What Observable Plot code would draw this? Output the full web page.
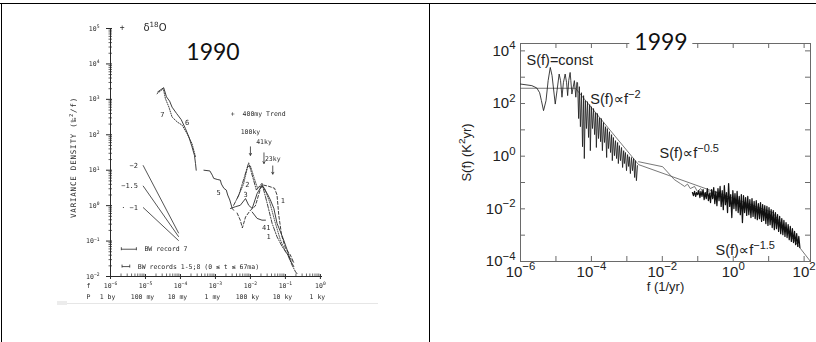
<!DOCTYPE html>
<html>
<head>
<meta charset="utf-8">
<script src="https://cdn.jsdelivr.net/npm/d3@7"></script>
<script src="https://cdn.jsdelivr.net/npm/@observablehq/plot@0.6"></script>
<style>
  html, body { margin: 0; padding: 0; background: #fff; }
  #page { position: relative; width: 816px; height: 342px; overflow: hidden; background: #fff; }
  #left, #right { position: absolute; top: 0; }
  #left { left: 0; }
  #right { left: 430px; }
  #left svg { filter: blur(0.3px); }
  .rule { position: absolute; background: #000; }
  .year { position: absolute; font-family: Lato, "Open Sans", sans-serif; font-size: 23px; color: #111;
          line-height: 1; transform: translate(-50%, -50%); white-space: nowrap; }
</style>
</head>
<body>
<div id="page">
  <div id="left"></div>
  <div id="right"></div>
  <div class="rule" style="left:0;top:3px;width:816px;height:1px"></div>
  <div class="rule" style="left:1px;top:3px;width:1px;height:339px"></div>
  <div class="rule" style="left:429px;top:3px;width:1px;height:339px"></div>
  <div style="position:absolute;left:57px;top:303px;width:321px;height:1px;background:#e6e6e6"></div>
  <div style="position:absolute;left:57px;top:301px;width:10px;height:4px;background:#ececec"></div>
  <div class="year" style="left:213px;top:51px">1990</div>
  <div class="year" style="left:661px;top:41px;background:#fff;padding:2px 5px">1999</div>
</div>
<script>
// ---------- 1990: δ18O variance spectra (log10 f in cycles/ky, log10 variance density) ----------
const rec6 = [[-4.65,3.21],[-4.48,3.33],[-4.40,3.07],[-4.31,2.95],[-4.24,2.78],[-4.11,2.60],[-3.98,2.43],
  [-3.86,2.18],[-3.76,1.94],[-3.67,1.66],[-3.60,1.42],[-3.57,1.19],[-3.55,1.00]];
const rec7 = [[-4.67,3.16],[-4.49,3.30],[-4.43,3.02],[-4.33,2.78],[-4.24,2.50],[-4.09,2.36],[-3.95,2.27],
  [-3.81,2.03],[-3.67,1.75],[-3.57,1.38]];
const rec5 = [[-3.33,1.00],[-3.16,0.98],[-3.09,0.86],[-3.05,0.77],[-2.95,0.74],[-2.86,0.72],[-2.83,0.61],
  [-2.76,0.49],[-2.69,0.44],[-2.65,0.30],[-2.59,0.16],[-2.52,-0.08],[-2.48,-0.13]];
const rec3 = [[-2.57,-0.08],[-2.43,-0.03],[-2.29,0.01],[-2.14,0.20],[-2.05,0.01],[-1.95,-0.08],[-1.81,0.34],
  [-1.67,0.58],[-1.52,0.34],[-1.43,0.16],[-1.33,-0.08],[-1.24,-0.50],[-1.14,-0.74],[-1.05,-0.97],
  [-0.95,-1.25],[-0.86,-1.54],[-0.76,-1.72]];
const rec2 = [[-2.48,0.01],[-2.33,0.30],[-2.20,0.72],[-2.05,1.21],[-1.91,0.72],[-1.83,0.44],[-1.67,0.63],
  [-1.52,0.06],[-1.38,-0.50],[-1.24,-0.88],[-1.09,-1.16],[-0.95,-1.35],[-0.81,-1.68],[-0.71,-1.87],[-0.66,-1.93]];
const rec8 = [[-2.38,0.20],[-2.20,0.60],[-2.08,1.10],[-2.00,1.12],[-1.90,0.80],[-1.80,0.50],[-1.70,0.55],
  [-1.60,0.50],[-1.45,0.10],[-1.30,-0.45],[-1.15,-0.95],[-1.00,-1.30],[-0.85,-1.50],[-0.75,-1.62]];
const rec1 = [[-2.38,-0.21],[-2.29,-0.41],[-2.23,-0.63],[-2.14,-0.32],[-2.00,-0.13],[-1.86,-0.01],[-1.71,0.49],
  [-1.63,0.58],[-1.49,0.55],[-1.31,0.49],[-1.24,0.30],[-1.19,-0.27],[-1.11,-0.83],[-1.00,-1.20],
  [-0.86,-1.39],[-0.77,-1.59]];
const rec4 = [[-1.95,-0.18],[-1.81,-0.36],[-1.67,-0.41],[-1.57,-0.41]];

const curveLabelText = ["7", "6", "5", "2", "3", "1", "41", "1"];
const curveLabelF = [-4.52, -3.81, -2.91, -2.09, -2.14, -1.07, -1.55, -1.48];
const curveLabelS = [2.57, 2.33, 0.36, 0.60, 0.32, 0.13, -0.63, -0.88];

// reference slopes
const slopeText = ["−2", "−1.5", "· −1"];
const slopeF = [-5.07, -4.05];
const slopeStartS = [1.14, 0.56, -0.05];
const slopeEndS = [-0.78, -0.88, -0.99];

// orbital periods (ky)
const periodKy = [100, 41, 23];
const periodText = ["100ky", "41ky", "23ky"];
const periodLabelS = [2.08, 1.80, 1.33];
const arrowTopS = [1.66, 1.49, 1.12];
const arrowTipS = [1.42, 1.19, 0.89];

// bandwidth bars
const bwText = ["BW record 7", "BW records 1-5;8 (0 ≤ t ≤ 67ma)"];
const bwF0 = [-5.69, -5.67];
const bwF1 = [-5.26, -5.45];
const bwS = [-1.23, -1.72];

const leftDecadesX = [-6, -5, -4, -3, -2, -1, 0];
const leftDecadesY = [-2, -1, 0, 1, 2, 3, 4, 5];
const periodRow = ["1 by", "100 my", "10 my", "1 my", "100 ky", "10 ky", "1 ky"];

// ---------- 1999: temperature spectrum S(f) in K²yr, f in 1/yr (log10 values) ----------
const proxySpec = [[-6.00,2.74],[-5.68,2.68],[-5.54,2.59],[-5.46,2.41],[-5.41,2.11],[-5.35,1.73],[-5.28,2.11],
  [-5.22,2.87],[-5.16,3.37],[-5.11,3.06],[-5.02,1.98],[-4.97,2.49],[-4.91,3.12],[-4.87,2.87],[-4.83,2.24],
  [-4.79,2.79],[-4.74,3.12],[-4.70,2.79],[-4.67,2.30],[-4.64,2.87],[-4.60,3.18],[-4.58,2.87],[-4.55,2.36],
  [-4.48,2.87],[-4.44,2.24],[-4.41,2.81],
  [-4.39,2.79],[-4.36,1.43],[-4.34,2.64],[-4.31,1.12],[-4.28,2.41],[-4.25,0.36],[-4.22,2.30],[-4.20,-0.09],
  [-4.17,2.11],[-4.14,1.05],[-4.11,2.07],[-4.08,0.71],[-4.05,1.96],[-4.03,0.21],[-4.00,1.88],[-3.97,1.05],
  [-3.94,1.81],[-3.91,0.82],[-3.88,1.65],[-3.86,0.33],[-3.83,1.62],[-3.80,0.67],[-3.77,1.46],[-3.74,0.55],
  [-3.72,1.43],[-3.69,0.21],[-3.66,1.28],[-3.63,0.52],[-3.60,1.12],[-3.57,-0.05],[-3.55,1.05],[-3.52,0.29],
  [-3.49,0.93],[-3.46,0.14],[-3.43,0.82],[-3.41,-0.17],[-3.38,0.71],[-3.35,0.02],[-3.32,0.59],[-3.29,-0.09],
  [-3.26,0.52],[-3.24,-0.28],[-3.21,0.40],[-3.18,-0.17],[-3.15,0.33],[-3.12,-0.43],[-3.09,0.21],[-3.07,-0.28],
  [-3.04,0.14],[-3.01,-0.55],[-2.98,0.06],[-2.95,-0.39],[-2.93,-0.02],[-2.90,-0.66],[-2.87,-0.05],[-2.84,-0.55],
  [-2.81,-0.09],[-2.78,-0.81],[-2.76,-0.17],[-2.73,-0.93],[-2.70,-0.36]];
const midSpec = [[-2.67,-0.21],[-1.99,-0.40],[-1.66,-0.89],[-1.49,-1.04],[-1.37,-1.15],[-1.29,-1.06],[-1.21,-1.23],
  [-1.09,-1.15],[-1.01,-1.34],[-0.92,-1.23],[-0.81,-1.42],[-0.70,-1.31],[-0.58,-1.53],[-0.47,-1.65]];
const instSpec = [[-1.15,-1.38],[-1.12,-1.50],[-1.09,-1.34],[-1.06,-1.53],[-1.03,-1.38],[-1.00,-1.46],[-0.97,-1.31],
  [-0.94,-1.57],[-0.91,-1.34],[-0.88,-1.53],[-0.85,-1.27],[-0.82,-1.65],[-0.79,-1.38],[-0.76,-1.61],[-0.73,-1.23],
  [-0.70,-1.69],[-0.67,-1.42],[-0.64,-1.76],[-0.61,-1.27],[-0.58,-1.61],[-0.55,-1.19],[-0.52,-1.80],[-0.49,-1.34],
  [-0.46,-1.88],[-0.43,-1.23],[-0.40,-1.69],[-0.37,-1.15],[-0.34,-1.91],[-0.31,-1.31],[-0.28,-2.03],[-0.25,-1.12],
  [-0.22,-1.84],[-0.19,-1.38],[-0.16,-2.14],[-0.13,-1.04],[-0.10,-1.91],[-0.07,-1.46],[-0.04,-2.33],[-0.01,-1.31],
  [0.02,-1.99],[0.05,-1.42],[0.08,-2.07],[0.11,-1.34],[0.14,-2.14],[0.17,-1.53],[0.20,-2.22],[0.23,-1.46],
  [0.26,-2.52],[0.29,-1.50],[0.32,-2.14],[0.35,-1.57],[0.38,-2.25],[0.41,-1.53],[0.44,-2.22],[0.47,-1.65],
  [0.50,-2.33],[0.53,-1.61],[0.56,-2.29],[0.59,-1.72],[0.62,-2.37],[0.65,-1.69],[0.68,-2.41],[0.71,-1.80],
  [0.74,-2.37],[0.77,-1.76],[0.80,-2.48],[0.83,-1.84],[0.86,-2.44],[0.89,-1.88],[0.92,-2.56],[0.95,-1.91],
  [0.98,-2.63],[1.01,-1.95],[1.04,-2.60],[1.07,-2.03],[1.10,-2.71],[1.13,-2.07],[1.16,-2.79],[1.19,-2.14],
  [1.22,-2.75],[1.25,-2.22],[1.28,-2.86],[1.31,-2.29],[1.34,-2.94],[1.37,-2.37],[1.40,-2.98],[1.43,-2.44],
  [1.46,-3.05],[1.49,-2.52],[1.52,-3.09],[1.55,-2.60],[1.58,-3.17],[1.61,-2.67],[1.64,-3.24],[1.67,-2.75],
  [1.70,-3.28],[1.73,-2.86],[1.76,-3.36],[1.79,-2.94],[1.82,-3.43],[1.85,-3.05],[1.88,-3.47]];
const powerLawFit = [[-6.00,2.58],[-4.45,2.58],[-2.67,-0.32],[1.11,-2.14],[2.18,-4.00]];

const fitText = ["S(f)=const", "S(f)∝f^−2", "S(f)∝f^−0.5", "S(f)∝f^−1.5"];
const fitTextF = [-5.83, -4.03, -2.08, -0.50];
const fitTextS = [3.63, 2.15, 0.10, -3.58];

const rightTickDecadesX = [-6, -5, -4, -3, -2, -1, 0, 1, 2];
const rightLabelDecadesX = [-6, -4, -2, 0, 2];
const rightTickDecadesY = [-4, -3, -2, -1, 0, 1, 2, 3, 4];
const rightLabelDecadesY = [-4, -2, 0, 2, 4];

// ---------- helpers ----------
const pts = arr => arr.map(([a, b]) => ({f: 10 ** a, s: 10 ** b}));
const pow10Label = e => "10^" + (e < 0 ? "−" + (-e) : String(e));
const minorTicks = decades => decades.slice(0, -1).flatMap(e => [2, 3, 4, 5, 6, 7, 8, 9].map(m => m * 10 ** e));

// turn "a^b" runs into raised tspans
function raiseExponents(svg, scale = 0.72) {
  const NS = "http://www.w3.org/2000/svg";
  svg.querySelectorAll("text").forEach(t => {
    if (t.querySelector("tspan")) return;
    const s = t.textContent;
    if (!s.includes("^")) return;
    const parts = s.split(/\^((?:\u2212|-)?[0-9.]+)/);
    t.textContent = "";
    parts.forEach((p, i) => {
      if (!p) return;
      const ts = document.createElementNS(NS, "tspan");
      ts.textContent = p;
      if (i % 2 === 1) { ts.setAttribute("font-size", `${scale * 100}%`); ts.setAttribute("dy", "-0.55em"); }
      else if (i > 0) { ts.setAttribute("dy", `${(0.55 * scale).toFixed(3)}em`); }
      t.appendChild(ts);
    });
  });
}

// ---------- 1990 panel ----------
const ink = "#2a2a2a";
const LW = 429, LH = 342, Lml = 110, Lmr = 107, Lmt = 28, Lmb = 66;
const Lfw = LW - Lml - Lmr, Lfh = LH - Lmt - Lmb;
const xL = leftDecadesX.map(e => 10 ** e);
const yL = leftDecadesY.map(e => 10 ** e);
const lineL = (data, extra = {}) => Plot.line(pts(data), {x: "f", y: "s", stroke: ink, strokeWidth: 0.9, ...extra});

const left = Plot.plot({
  width: LW, height: LH,
  marginLeft: Lml, marginRight: Lmr, marginTop: Lmt, marginBottom: Lmb,
  x: {type: "log", domain: [1e-6, 10 ** 0.06], axis: null},
  y: {type: "log", domain: [1e-2, 1e5], axis: null},
  style: {fontFamily: "'DejaVu Sans Mono', 'Liberation Mono', monospace", fontSize: "6.5px", color: ink, background: "transparent"},
  marks: [
    // axes
    Plot.ruleX([1e-6], {y1: 1e-2, y2: 1e5, stroke: ink, strokeWidth: 1}),
    Plot.ruleY([1e-2], {x1: 1e-6, x2: 10 ** 0.06, stroke: ink, strokeWidth: 1}),
    Plot.tickY(yL, {y: d => d, insetLeft: -4, insetRight: Lfw - 2, stroke: ink}),
    Plot.tickY(minorTicks(leftDecadesY), {y: d => d, insetLeft: -1.5, insetRight: Lfw - 2, stroke: ink, strokeWidth: 0.7}),
    Plot.tickX(xL, {x: d => d, insetTop: Lfh - 2, insetBottom: -3, stroke: ink}),
    Plot.tickX(minorTicks(leftDecadesX), {x: d => d, insetTop: Lfh - 2.5, insetBottom: 0, stroke: ink, strokeWidth: 0.7}),
    Plot.text(yL, {y: d => d, text: d => pow10Label(Math.round(Math.log10(d))), frameAnchor: "left", dx: -11, textAnchor: "end"}),
    Plot.text(xL, {x: d => d, text: d => pow10Label(Math.round(Math.log10(d))), frameAnchor: "bottom", dy: 11}),
    Plot.text(["f"], {frameAnchor: "bottom-left", dx: -24, dy: 11}),
    Plot.text(["P"], {frameAnchor: "bottom-left", dx: -24, dy: 22}),
    Plot.text(periodRow, {x: (d, i) => xL[i], frameAnchor: "bottom", dy: 22, dx: -3}),
    Plot.text(["VARIANCE DENSITY (‰^2/f)"], {frameAnchor: "left", textAnchor: "middle", rotate: -90, dx: -37, dy: 5, fontSize: 7.5}),
    // header marks
    Plot.text(["+"], {x: [10 ** -5.67], y: [10 ** 5.03], fontSize: 8}),
    Plot.text(["δ^18O"], {x: [10 ** -5.06], y: [10 ** 5.03], textAnchor: "start", fontSize: 10,
      fontFamily: "'DejaVu Sans', sans-serif"}),
    Plot.text(["+  400my Trend"], {x: [10 ** -2.56], y: [10 ** 2.58], textAnchor: "start"}),
    // reference slopes
    Plot.link(slopeText, {x1: () => 10 ** slopeF[0], x2: () => 10 ** slopeF[1],
      y1: (d, i) => 10 ** slopeStartS[i], y2: (d, i) => 10 ** slopeEndS[i], stroke: ink, strokeWidth: 0.8}),
    Plot.text(slopeText, {x: () => 10 ** slopeF[0], y: (d, i) => 10 ** slopeStartS[i], dx: -5, textAnchor: "end", fontSize: 7}),
    // bandwidth bars
    Plot.link(bwText, {x1: (d, i) => 10 ** bwF0[i], x2: (d, i) => 10 ** bwF1[i], y1: (d, i) => 10 ** bwS[i], y2: (d, i) => 10 ** bwS[i], stroke: ink, strokeWidth: 0.8}),
    Plot.ruleX(bwText.flatMap((d, i) => [{f: 10 ** bwF0[i], s: 10 ** bwS[i]}, {f: 10 ** bwF1[i], s: 10 ** bwS[i]}]),
      {x: "f", y1: "s", y2: "s", insetTop: -1.5, insetBottom: -1.5, stroke: ink, strokeWidth: 0.8}),
    Plot.text(bwText, {x: (d, i) => 10 ** bwF1[i], y: (d, i) => 10 ** bwS[i], dx: 8, textAnchor: "start"}),
    // orbital period markers
    Plot.arrow(periodKy, {x1: d => 1 / d, x2: d => 1 / d, y1: (d, i) => 10 ** arrowTopS[i], y2: (d, i) => 10 ** arrowTipS[i],
      stroke: ink, strokeWidth: 0.8, headLength: 4}),
    Plot.text(periodText, {x: (d, i) => 1 / periodKy[i], y: (d, i) => 10 ** periodLabelS[i]}),
    // spectra
    lineL(rec7, {strokeDasharray: "1,1.4"}),
    lineL(rec6),
    lineL(rec5),
    lineL(rec3),
    lineL(rec4),
    lineL(rec8, {strokeDasharray: "1,1.3", strokeWidth: 0.8}),
    lineL(rec2, {strokeDasharray: "4,1.5,1,1.5"}),
    lineL(rec1, {strokeDasharray: "3,2"}),
    Plot.text(curveLabelText, {x: (d, i) => 10 ** curveLabelF[i], y: (d, i) => 10 ** curveLabelS[i], fontSize: 7})
  ]
});
raiseExponents(left);
left.querySelectorAll("text").forEach(t => { if (t.textContent.startsWith("VARIANCE")) t.setAttribute("letter-spacing", "0.8"); });
document.getElementById("left").append(left);

// ---------- 1999 panel ----------
const RW = 386, RH = 342, Rml = 90, Rmr = 6, Rmt = 43, Rmb = 81;
const Rfw = RW - Rml - Rmr, Rfh = RH - Rmt - Rmb;
const axisGrey = "#6a6a6a";
const xTicksR = rightTickDecadesX.map(e => 10 ** e);
const yTicksR = rightTickDecadesY.map(e => 10 ** e);
const lineR = (data, extra = {}) => Plot.line(pts(data), {x: "f", y: "s", ...extra});

const right = Plot.plot({
  width: RW, height: RH,
  marginLeft: Rml, marginRight: Rmr, marginTop: Rmt, marginBottom: Rmb,
  x: {type: "log", domain: [1e-6, 10 ** 2.18], axis: null},
  y: {type: "log", domain: [1e-4, 10 ** 4.28], axis: null},
  style: {fontFamily: "'Liberation Sans', 'DejaVu Sans', Arial, sans-serif", fontSize: "14px", color: "#222", background: "transparent"},
  marks: [
    Plot.frame({stroke: axisGrey, strokeWidth: 1}),
    Plot.tickX(xTicksR, {x: d => d, insetTop: Rfh - 5, stroke: axisGrey}),
    Plot.tickX(xTicksR, {x: d => d, insetBottom: Rfh - 5, stroke: axisGrey}),
    Plot.tickY(yTicksR, {y: d => d, insetRight: Rfw - 5, stroke: axisGrey}),
    Plot.tickY(yTicksR, {y: d => d, insetLeft: Rfw - 5, stroke: axisGrey}),
    Plot.text(rightLabelDecadesX, {x: d => 10 ** d, text: pow10Label, frameAnchor: "bottom", dy: 15, fontSize: 15}),
    Plot.text(rightLabelDecadesY, {y: d => 10 ** d, text: pow10Label, frameAnchor: "left", dx: -5, textAnchor: "end", fontSize: 15}),
    Plot.text(["f (1/yr)"], {frameAnchor: "bottom", dy: 29, fontSize: 13}),
    Plot.text(["S(f) (K^2yr)"], {frameAnchor: "left", textAnchor: "middle", rotate: -90, dx: -54, fontSize: 13}),
    // piecewise power-law fit
    lineR(powerLawFit, {stroke: "#555", strokeWidth: 0.8}),
    // spectra
    lineR(midSpec, {stroke: "#555", strokeWidth: 0.8}),
    lineR(proxySpec, {stroke: "#1e1e1e", strokeWidth: 0.85}),
    lineR(instSpec, {stroke: "#111", strokeWidth: 1.25}),
    Plot.text(fitText, {x: (d, i) => 10 ** fitTextF[i], y: (d, i) => 10 ** fitTextS[i], textAnchor: "start", fontSize: 14.5})
  ]
});
raiseExponents(right, 0.76);
document.getElementById("right").append(right);
</script>
</body>
</html>
